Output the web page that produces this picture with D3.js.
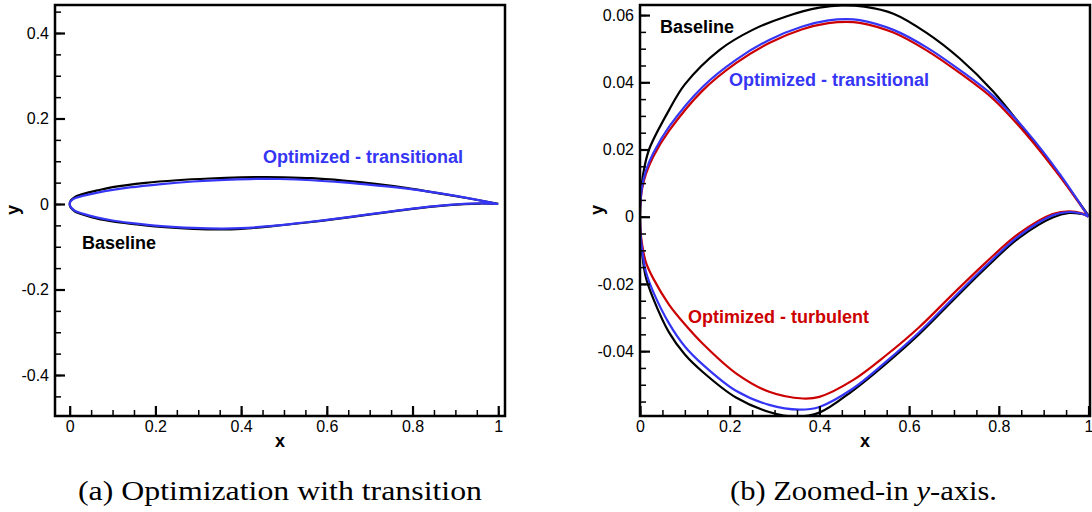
<!DOCTYPE html>
<html>
<head>
<meta charset="utf-8">
<script src="https://cdn.jsdelivr.net/npm/d3@7"></script>
<style>
  body { margin: 0; background: #fff; }
  svg { display: block; }
</style>
</head>
<body>
<svg id="chart" width="1092" height="512"></svg>
<script>
// airfoil coordinates, [x, y]
var baselineUpper = [[0,0],[0.001,0.005],[0.004,0.0098],[0.01,0.0148],[0.021,0.0203],[0.065,0.0318],[0.10,0.0394],[0.177,0.0496],[0.251,0.0556],[0.326,0.0596],[0.40,0.0622],[0.45,0.0629],[0.50,0.0625],[0.565,0.0604],[0.639,0.0547],[0.7135,0.047],[0.788,0.0372],[0.862,0.025],[0.936,0.0122],[1,0.0003]];
var baselineLower = [[0,0],[0.001,-0.0052],[0.005,-0.0112],[0.013,-0.018],[0.03,-0.0245],[0.065,-0.0345],[0.10,-0.041],[0.14,-0.0462],[0.214,-0.0538],[0.288,-0.0581],[0.348,-0.0595],[0.40,-0.0583],[0.474,-0.0518],[0.548,-0.0438],[0.623,-0.0349],[0.697,-0.025],[0.772,-0.0151],[0.846,-0.0062],[0.92,-0.0002],[0.957,0.0011],[0.985,0.0008],[1,0.0003]];

var transUpper = [[0,0],[0.001,0.0045],[0.005,0.0092],[0.0134,0.0138],[0.03,0.019],[0.065,0.0268],[0.14,0.0387],[0.214,0.0467],[0.288,0.0526],[0.362,0.0566],[0.42,0.0584],[0.46,0.0588],[0.49,0.0585],[0.565,0.0556],[0.639,0.0504],[0.7135,0.0436],[0.788,0.0359],[0.862,0.0254],[0.936,0.0127],[1,0]];
var transLower = [[0,0],[0.001,-0.0047],[0.005,-0.0102],[0.013,-0.0163],[0.03,-0.0225],[0.065,-0.0318],[0.10,-0.0386],[0.14,-0.044],[0.214,-0.0518],[0.288,-0.056],[0.355,-0.0574],[0.40,-0.0566],[0.474,-0.0512],[0.548,-0.0432],[0.623,-0.0343],[0.697,-0.0244],[0.772,-0.0145],[0.846,-0.0056],[0.92,0.0004],[0.957,0.0014],[0.985,0.0009],[1,0]];

var turbUpper = [[0,0],[0.001,0.004],[0.005,0.0085],[0.0134,0.0128],[0.03,0.018],[0.065,0.0256],[0.14,0.0376],[0.214,0.0457],[0.288,0.0517],[0.362,0.0558],[0.42,0.0576],[0.46,0.058],[0.49,0.0577],[0.565,0.0548],[0.639,0.0495],[0.7135,0.0427],[0.788,0.035],[0.862,0.0244],[0.936,0.012],[1,0]];
var turbLower = [[0,0],[0.001,-0.004],[0.005,-0.0085],[0.013,-0.0135],[0.03,-0.0185],[0.065,-0.0262],[0.10,-0.032],[0.14,-0.0378],[0.214,-0.0466],[0.288,-0.0521],[0.363,-0.0541],[0.40,-0.0536],[0.474,-0.0487],[0.548,-0.0413],[0.623,-0.0328],[0.697,-0.0231],[0.772,-0.0135],[0.846,-0.0049],[0.92,0.0008],[0.957,0.0016],[0.985,0.001],[1,0]];

// ticks
var xTicks = [0, 0.2, 0.4, 0.6, 0.8, 1];
var xTickLabels = ["0", "0.2", "0.4", "0.6", "0.8", "1"];
var yTicksA = [-0.4, -0.2, 0, 0.2, 0.4];
var yTickLabelsA = ["-0.4", "-0.2", "0", "0.2", "0.4"];
var yTicksB = [-0.04, -0.02, 0, 0.02, 0.04, 0.06];
var yTickLabelsB = ["-0.04", "-0.02", "0", "0.02", "0.04", "0.06"];

var sans = "'Liberation Sans', Arial, Helvetica, sans-serif";
var serif = "'Liberation Serif', 'Times New Roman', serif";
var blue = "#3535f5", red = "#cc0000";

var svg = d3.select("#chart");

function closed(upper, lower) {
  // trailing edge -> lower surface -> leading edge -> upper surface
  return lower.slice().reverse().concat(upper.slice(1));
}

function panel(opt) {
  var x = d3.scaleLinear().domain(opt.xd).range([opt.left, opt.right]);
  var y = d3.scaleLinear().domain(opt.yd).range([opt.bottom, opt.top]);
  var g = svg.append("g");
  var clipId = "clip" + opt.id;
  g.append("clipPath").attr("id", clipId)
    .append("rect")
    .attr("x", opt.left).attr("y", opt.top)
    .attr("width", opt.right - opt.left).attr("height", opt.bottom - opt.top);

  var line = d3.line()
    .x(function(d) { return x(d[0]); })
    .y(function(d) { return y(d[1]); })
    .curve(d3.curveCatmullRom.alpha(0.5));

  var curves = g.append("g").attr("clip-path", "url(#" + clipId + ")");
  opt.series.forEach(function(s) {
    curves.append("path")
      .attr("d", line(closed(s.upper, s.lower)))
      .attr("fill", "none")
      .attr("stroke", s.color)
      .attr("stroke-width", 2.2)
      .attr("stroke-linejoin", "round");
  });

  // minor ticks
  g.append("g").attr("transform", "translate(0," + opt.bottom + ")")
    .call(d3.axisBottom(x).tickValues(d3.range(0, 1.001, 0.05)).tickSize(-6).tickFormat(""))
    .call(function(a) { a.select(".domain").remove(); a.selectAll("line").attr("stroke-width", 1.5); });
  g.append("g").attr("transform", "translate(" + opt.left + ",0)")
    .call(d3.axisLeft(y).tickValues(opt.yMinor).tickSize(-6).tickFormat(""))
    .call(function(a) { a.select(".domain").remove(); a.selectAll("line").attr("stroke-width", 1.5); });

  // major ticks
  g.append("g").attr("transform", "translate(0," + opt.bottom + ")")
    .call(d3.axisBottom(x).tickValues(xTicks).tickSize(-10).tickPadding(5)
      .tickFormat(function(d, i) { return xTickLabels[i]; }))
    .call(function(a) {
      a.select(".domain").remove();
      a.selectAll("line").attr("stroke-width", 2.2);
      a.selectAll("text").attr("font-family", sans).attr("font-size", 16).attr("fill", "#000");
    });
  g.append("g").attr("transform", "translate(" + opt.left + ",0)")
    .call(d3.axisLeft(y).tickValues(opt.yTicks).tickSize(-10).tickPadding(6)
      .tickFormat(function(d, i) { return opt.yLabels[i]; }))
    .call(function(a) {
      a.select(".domain").remove();
      a.selectAll("line").attr("stroke-width", 2.2);
      a.selectAll("text").attr("font-family", sans).attr("font-size", 16).attr("fill", "#000");
    });

  // frame
  g.append("rect")
    .attr("x", opt.left).attr("y", opt.top)
    .attr("width", opt.right - opt.left).attr("height", opt.bottom - opt.top)
    .attr("fill", "none").attr("stroke", "#000").attr("stroke-width", 2.5);

  // axis titles
  g.append("text")
    .attr("x", (opt.left + opt.right) / 2).attr("y", 447)
    .attr("text-anchor", "middle")
    .attr("font-family", sans).attr("font-weight", "bold").attr("font-size", 18)
    .text("x");
  g.append("text")
    .attr("transform", "translate(" + opt.yLabelX + ",210) rotate(-90)")
    .attr("text-anchor", "middle")
    .attr("font-family", sans).attr("font-weight", "bold").attr("font-size", 18)
    .text("y");

  opt.notes.forEach(function(n) {
    g.append("text")
      .attr("x", n.x).attr("y", n.y)
      .attr("font-family", sans).attr("font-weight", "bold").attr("font-size", 18)
      .attr("fill", n.color)
      .text(n.text);
  });
  return g;
}

panel({
  id: "a", left: 55, right: 505, top: 5, bottom: 416,
  xd: [-0.0343, 1.0158], yd: [-0.4959, 0.4655],
  yTicks: yTicksA, yLabels: yTickLabelsA,
  yMinor: d3.range(-0.45, 0.451, 0.05),
  yLabelX: 19,
  series: [
    {upper: baselineUpper, lower: baselineLower, color: "#000"},
    {upper: transUpper, lower: transLower, color: blue}
  ],
  notes: [
    {text: "Optimized - transitional", x: 263, y: 163, color: blue},
    {text: "Baseline", x: 82, y: 249, color: "#000"}
  ]
});

panel({
  id: "b", left: 640, right: 1090, top: 5, bottom: 416,
  xd: [0, 1.0033], yd: [-0.0593, 0.063],
  yTicks: yTicksB, yLabels: yTickLabelsB,
  yMinor: d3.range(-0.055, 0.0601, 0.005),
  yLabelX: 603,
  series: [
    {upper: baselineUpper, lower: baselineLower, color: "#000"},
    {upper: turbUpper, lower: turbLower, color: red},
    {upper: transUpper, lower: transLower, color: blue}
  ],
  notes: [
    {text: "Baseline", x: 660, y: 33, color: "#000"},
    {text: "Optimized - transitional", x: 729, y: 86, color: blue},
    {text: "Optimized - turbulent", x: 688, y: 323, color: red}
  ]
});

// captions (Computer Modern look, stretched to the reference width)
svg.append("text")
  .attr("x", 78).attr("y", 500)
  .attr("font-family", serif).attr("font-size", 28)
  .attr("textLength", 404).attr("lengthAdjust", "spacingAndGlyphs")
  .text("(a) Optimization with transition");

var capB = svg.append("text")
  .attr("x", 730).attr("y", 500)
  .attr("font-family", serif).attr("font-size", 28)
  .attr("textLength", 267).attr("lengthAdjust", "spacingAndGlyphs");
capB.append("tspan").text("(b) Zoomed-in ");
capB.append("tspan").attr("font-style", "italic").text("y");
capB.append("tspan").text("-axis.");
</script>
</body>
</html>
